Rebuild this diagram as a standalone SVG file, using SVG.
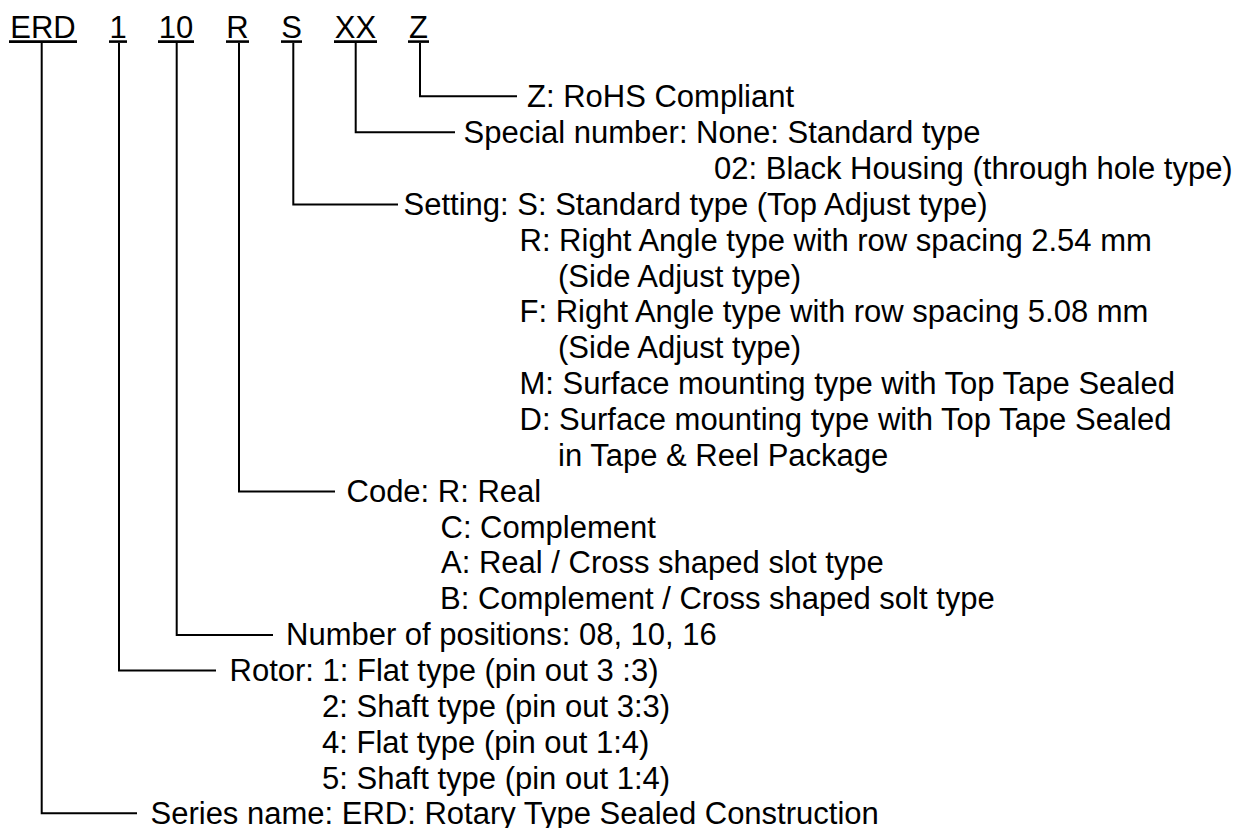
<svg xmlns="http://www.w3.org/2000/svg" width="1239" height="828" viewBox="0 0 1239 828">
<style>
text { font-family: "Liberation Sans", Arial, sans-serif; font-size: 31px; fill: #000; }
.hd { text-anchor: middle; }
.ul { stroke: #000; stroke-width: 2.6; fill: none; }
.cn { stroke: #000; stroke-width: 2; fill: none; }
</style>
<rect x="0" y="0" width="1239" height="828" fill="#fff"/>
<g id="header">
  <g id="code-ERD"><text class="hd" x="43" y="37.5">ERD</text><line class="ul" x1="9" y1="41.6" x2="77" y2="41.6"/></g>
  <g id="code-1"><text class="hd" x="118" y="37.5">1</text><line class="ul" x1="109" y1="41.6" x2="127" y2="41.6"/></g>
  <g id="code-10"><text class="hd" x="176" y="37.5">10</text><line class="ul" x1="158" y1="41.6" x2="194" y2="41.6"/></g>
  <g id="code-R"><text class="hd" x="237.5" y="37.5">R</text><line class="ul" x1="226" y1="41.6" x2="249" y2="41.6"/></g>
  <g id="code-S"><text class="hd" x="291.5" y="37.5">S</text><line class="ul" x1="281" y1="41.6" x2="302" y2="41.6"/></g>
  <g id="code-XX"><text class="hd" x="355.5" y="37.5">XX</text><line class="ul" x1="334" y1="41.6" x2="377" y2="41.6"/></g>
  <g id="code-Z"><text class="hd" x="418.5" y="37.5">Z</text><line class="ul" x1="408" y1="41.6" x2="429" y2="41.6"/></g>
</g>
<g id="connectors">
  <polyline class="cn" points="420,43 420,96.3 517,96.3"/>
  <polyline class="cn" points="355.7,43 355.7,132.2 455,132.2"/>
  <polyline class="cn" points="293.3,43 293.3,204.5 398,204.5"/>
  <polyline class="cn" points="239,43 239,491.5 335,491.5"/>
  <polyline class="cn" points="176.7,43 176.7,635 273,635"/>
  <polyline class="cn" points="119,43 119,670.5 216,670.5"/>
  <polyline class="cn" points="41.7,43 41.7,813.3 137,813.3"/>
</g>
<g id="node-Z">
  <text x="527" y="107.3">Z: RoHS Compliant</text>
</g>
<g id="node-XX">
  <text x="463.5" y="143.2">Special number: None: Standard type</text>
  <text x="714" y="179">02: Black Housing (through hole type)</text>
</g>
<g id="node-S">
  <text x="403.5" y="214.9">Setting: S: Standard type (Top Adjust type)</text>
  <text x="519.5" y="250.7">R: Right Angle type with row spacing 2.54 mm</text>
  <text x="558" y="286.6">(Side Adjust type)</text>
  <text x="519.5" y="322.4">F: Right Angle type with row spacing 5.08 mm</text>
  <text x="558" y="358.3">(Side Adjust type)</text>
  <text x="519.5" y="394.1">M: Surface mounting type with Top Tape Sealed</text>
  <text x="519.5" y="430">D: Surface mounting type with Top Tape Sealed</text>
  <text x="558" y="465.8">in Tape &amp; Reel Package</text>
</g>
<g id="node-R">
  <text x="346.5" y="501.7">Code: R: Real</text>
  <text x="440.5" y="537.5">C: Complement</text>
  <text x="441" y="573.4">A: Real / Cross shaped slot type</text>
  <text x="440" y="609.2">B: Complement / Cross shaped solt type</text>
</g>
<g id="node-10">
  <text x="286" y="645.1">Number of positions: 08, 10, 16</text>
</g>
<g id="node-1">
  <text x="229.5" y="680.9">Rotor: 1: Flat type (pin out 3 :3)</text>
  <text x="322" y="716.8">2: Shaft type (pin out 3:3)</text>
  <text x="322" y="752.6">4: Flat type (pin out 1:4)</text>
  <text x="322" y="788.5">5: Shaft type (pin out 1:4)</text>
</g>
<g id="node-ERD">
  <text x="150.5" y="824.3">Series name: ERD: Rotary Type Sealed Construction</text>
</g>
</svg>
